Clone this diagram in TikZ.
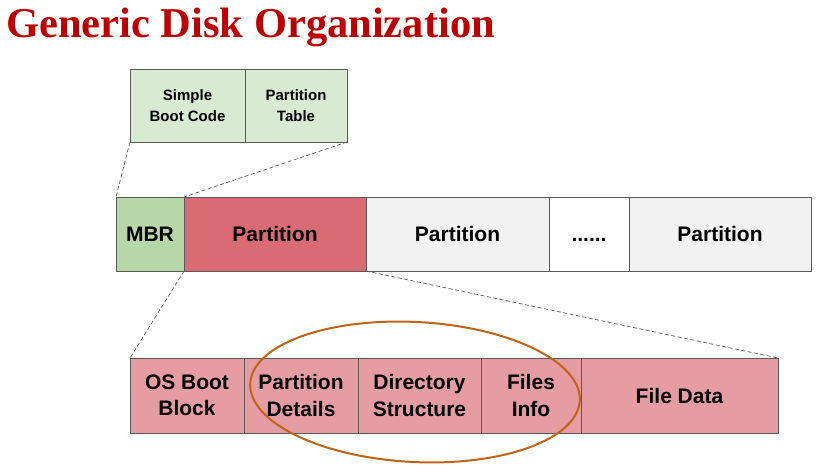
\documentclass[tikz,border=0pt]{standalone}
\usepackage{fontspec}
\usetikzlibrary{shapes.geometric}
\setmainfont{Liberation Sans}
\newfontfamily\titlefont{Liberation Serif}
\definecolor{titlered}{RGB}{192,0,0}
\definecolor{linegray}{RGB}{89,89,89}
\definecolor{lightgreen}{RGB}{217,234,211}
\definecolor{mbrgreen}{RGB}{182,215,168}
\definecolor{partred}{RGB}{218,107,117}
\definecolor{partgray}{RGB}{242,242,242}
\definecolor{pinkcell}{RGB}{230,156,163}
\definecolor{ovalbrown}{RGB}{190,100,20}
\begin{document}
\begin{tikzpicture}[x=1pt,y=-1pt,
  cell/.style={draw=linegray, line width=0.7pt, inner sep=0pt, outer sep=0pt,
    anchor=north west, align=center, font=\bfseries},
  topcell/.style={cell, fill=lightgreen, minimum height=73pt,
    font=\fontsize{15}{21}\selectfont\bfseries},
  midcell/.style={cell, minimum height=74pt,
    font=\fontsize{21}{25}\selectfont\bfseries},
  botcell/.style={cell, fill=pinkcell, minimum height=75pt,
    font=\fontsize{21}{26.5}\selectfont\bfseries},
  zoomline/.style={draw=linegray, line width=0.7pt, dash pattern=on 4pt off 2.5pt}
]
\useasboundingbox (0,0) rectangle (822,470);
\node[anchor=base west, inner sep=0pt, text=titlered,
  font=\titlefont\fontsize{42.5}{48}\selectfont\bfseries] (title) at (6,38) {Generic Disk Organization};

% top MBR detail box
\node[topcell, minimum width=115pt] (boot) at (130,69) {Simple\\Boot Code};
\node[topcell, minimum width=102pt] (ptable) at (245,69) {Partition\\Table};

% middle disk row
\node[midcell, fill=mbrgreen, minimum width=68pt] (mbr) at (116,197) {MBR};
\node[midcell, fill=partred, minimum width=182pt] (p1) at (184,197) {Partition};
\node[midcell, fill=partgray, minimum width=183pt] (p2) at (366,197) {Partition};
\node[midcell, fill=white, minimum width=80pt] (dots) at (549,197) {......\vphantom{Partition}};
\node[midcell, fill=partgray, minimum width=182pt] (p3) at (629,197) {Partition};

% bottom partition detail row
\node[botcell, minimum width=114pt] (osb) at (130,358) {OS Boot\\Block};
\node[botcell, minimum width=114pt] (pd) at (244,358) {Partition\\Details};
\node[botcell, minimum width=123pt] (ds) at (358,358) {Directory\\Structure};
\node[botcell, minimum width=100pt] (fi) at (481,358) {Files\\Info};
\node[botcell, minimum width=197pt] (fd) at (581,358) {File Data};

% zoom lines
\draw[zoomline] (boot.south west) -- (mbr.north west);
\draw[zoomline] (ptable.south east) -- (mbr.north east);
\draw[zoomline] (mbr.south east) -- (osb.north west);
\draw[zoomline] (p1.south east) -- (fd.north east);

% highlight oval
\node[draw=ovalbrown, line width=2pt, ellipse, minimum width=330pt, minimum height=140pt,
  inner sep=0pt, rotate=-3] (oval) at (415,392) {};
\end{tikzpicture}
\end{document}
